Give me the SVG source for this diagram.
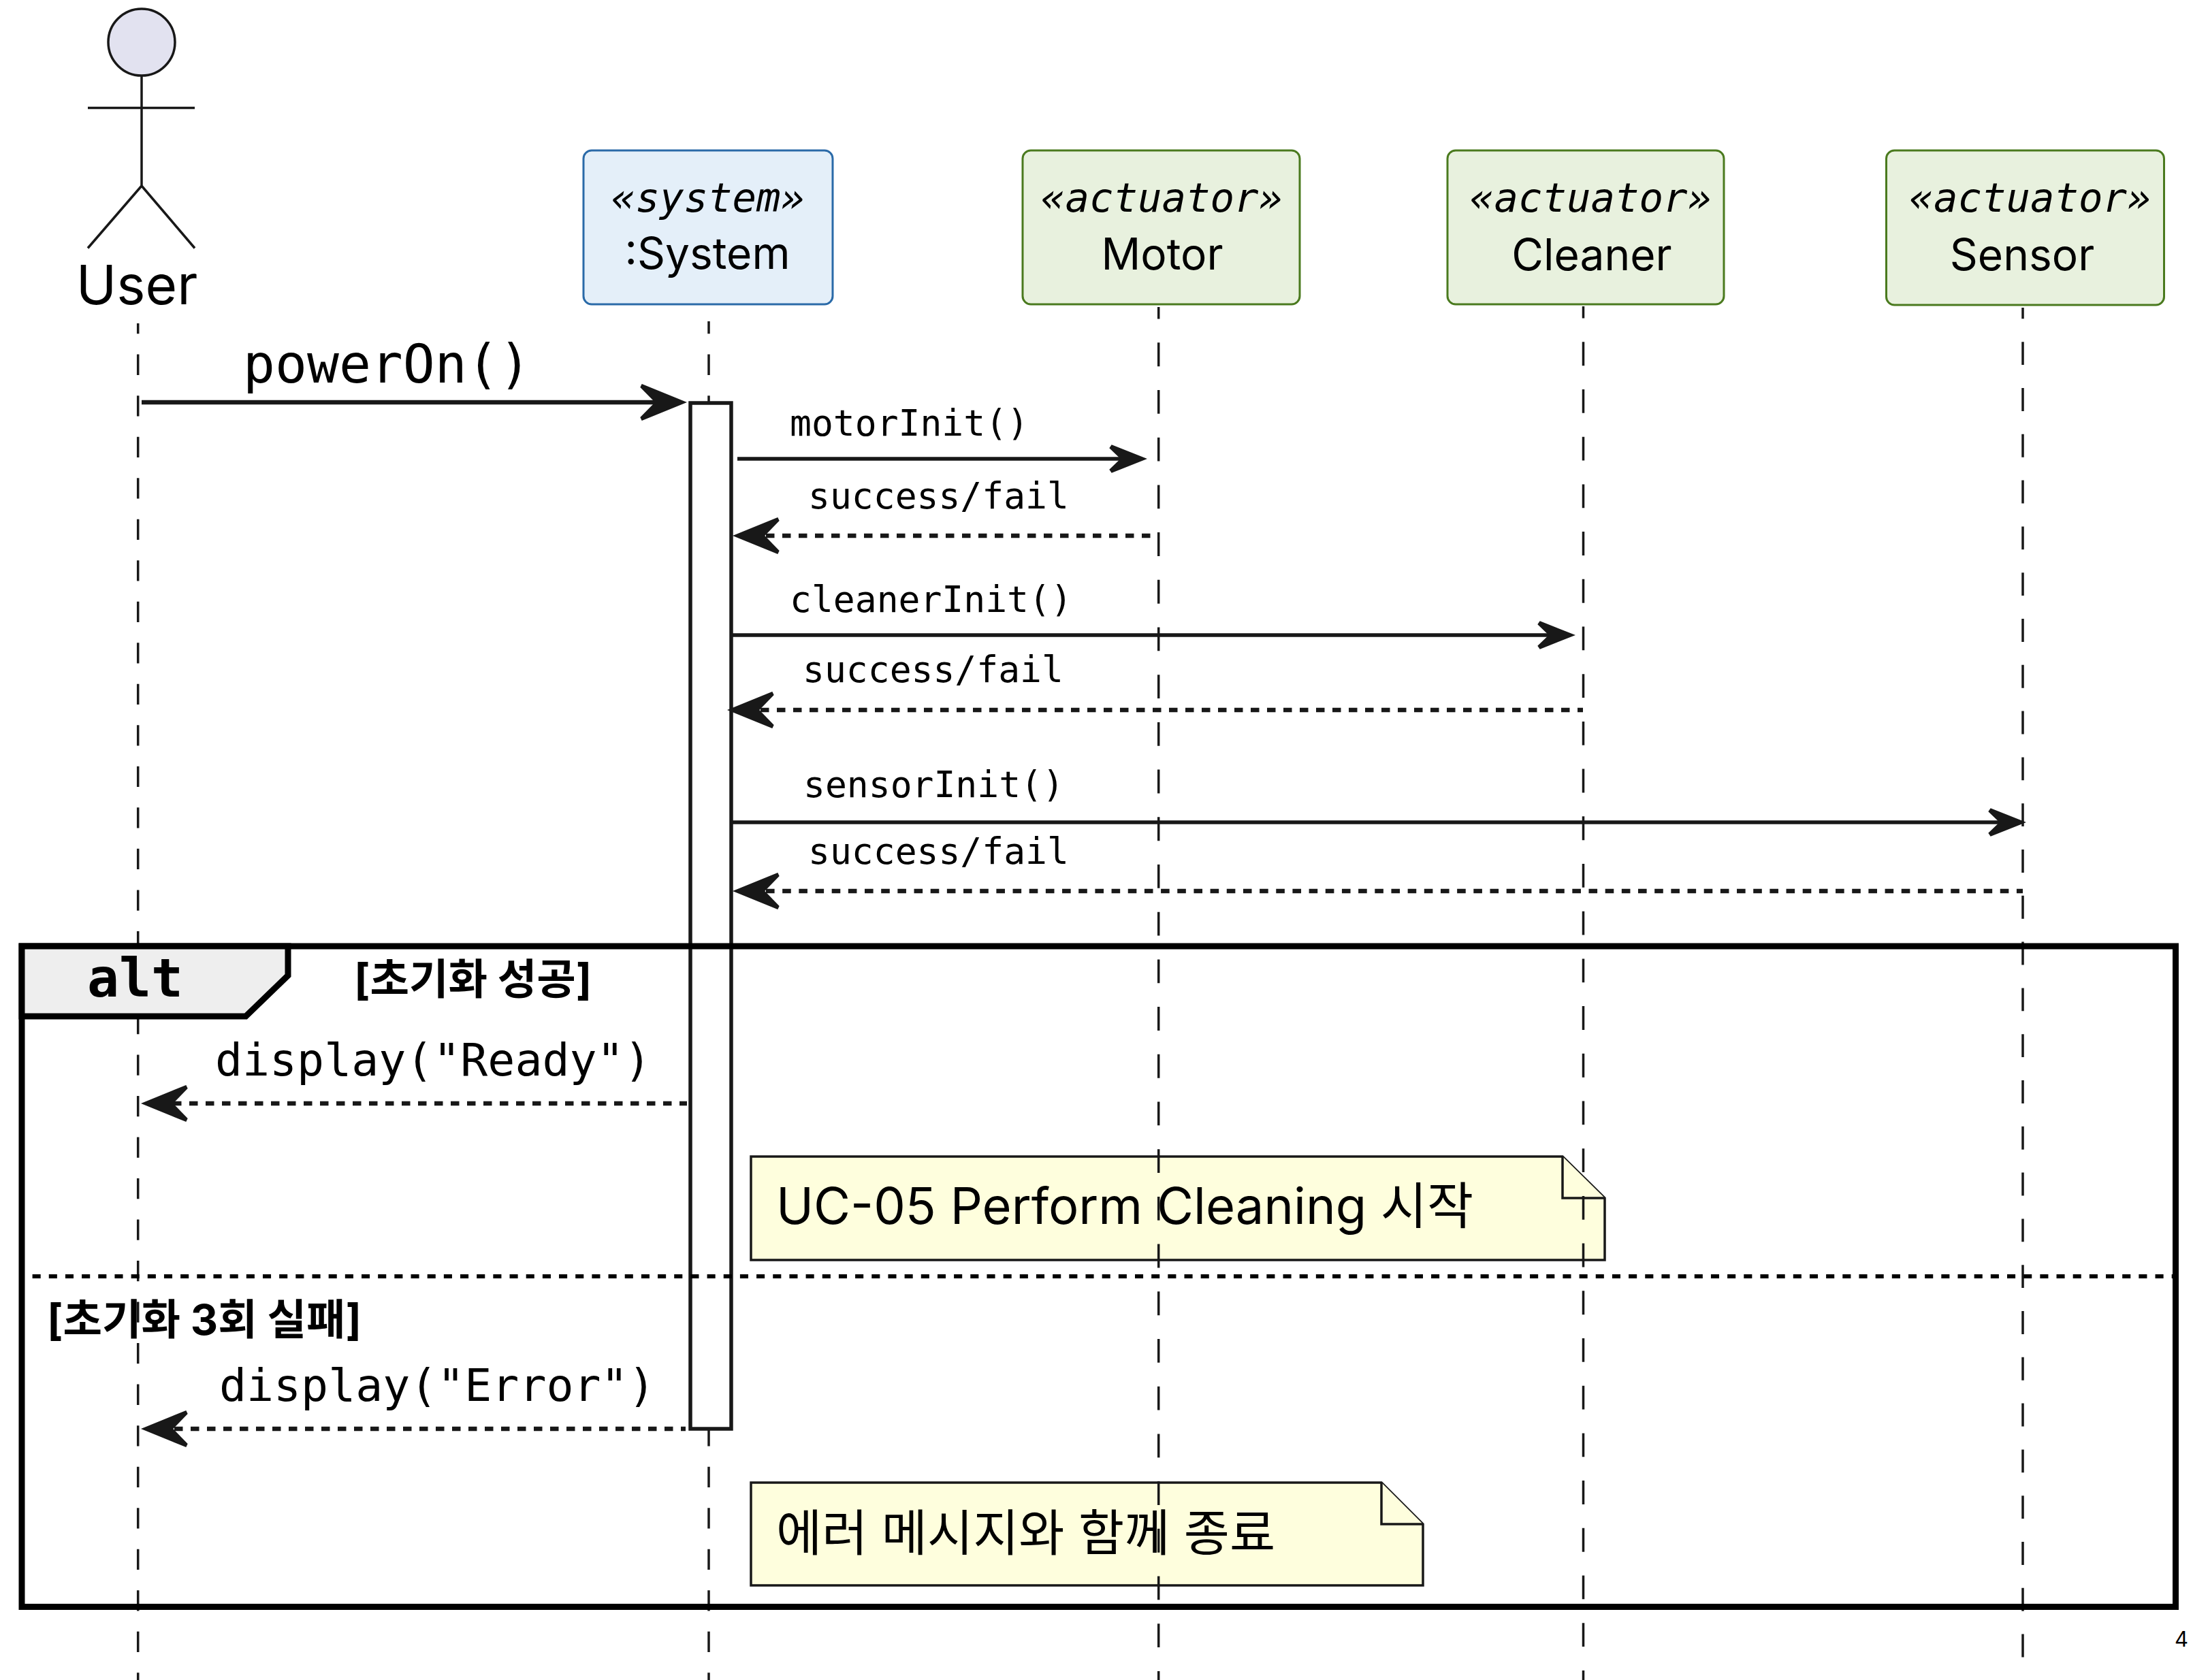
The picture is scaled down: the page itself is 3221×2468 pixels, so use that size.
<svg xmlns="http://www.w3.org/2000/svg" width="3221" height="2468" viewBox="0 0 3221 2468">
<style>
.life{stroke:#181818;stroke-width:3.5;fill:none}
.sans{font-family:Inter,"Noto Sans CJK KR",sans-serif;fill:#000}
.mono{font-family:"DejaVu Sans Mono",monospace;fill:#000}
.st{font-size:59px;font-style:italic;text-anchor:middle}
.pn{font-size:64px;text-anchor:middle}
.ms{font-size:53px}
.ml{font-size:66.500px}
.guard{font-size:62.500px;font-weight:700}
.note{font-size:74px}
.notebox{fill:#fefedd;stroke:#181818;stroke-width:3.5}
.act{fill:#e2e2f0;stroke:#181818;stroke-width:3.5}
.sys{fill:#e4eff9;stroke:#2a6aa8;stroke-width:3}
.actu{fill:#e8f1de;stroke:#4a7a1e;stroke-width:3}
.solid{stroke:#181818;stroke-width:5.5;fill:none}
.dash{stroke:#181818;stroke-width:6.5;fill:none;stroke-dasharray:12.500 11.500}
.head{fill:#181818}
</style>
<rect width="3221" height="2468" fill="#fff"/>

<g id="note-start">
<path class="notebox" d="M1103 1699H2295L2357 1760V1851H1103Z"/>
<path class="notebox" d="M2295 1699V1760H2357"/>
<text class="sans note" x="1140" y="1798">UC-05 Perform Cleaning 시작</text>
</g>
<g id="note-error">
<path class="notebox" d="M1103 2178H2029L2090 2239V2329H1103Z"/>
<path class="notebox" d="M2029 2178V2239H2090"/>
<text class="sans note" x="1140" y="2278" style="font-size:73px">에러 메시지와 함께 종료</text>
</g>

<g id="user">
<circle class="act" cx="208" cy="62" r="49"/>
<path class="life" d="M208 111V273M129 158.500H286M208 273L129 364.500M208 273L286 364.500"/>
<text class="sans" font-size="80" x="201" y="447" text-anchor="middle">User</text>
<line class="life" x1="202.700" y1="475" x2="202.700" y2="2468" stroke-dasharray="30.260 30.260" stroke-dashoffset="14.900"/>
</g>
<g id="system">
<rect class="sys" x="857" y="221" width="366" height="226" rx="12"/>
<text class="mono st" x="1040" y="311">«system»</text>
<text class="sans pn" x="1039" y="395">:System</text>
<line class="life" x1="1041" y1="472" x2="1041" y2="2468" stroke-dasharray="30.260 30.260" stroke-dashoffset="11.900"/>
</g>
<g id="motor">
<rect class="actu" x="1502" y="221" width="407" height="226" rx="12"/>
<text class="mono st" x="1706.500" y="311">«actuator»</text>
<text class="sans pn" x="1707" y="396">Motor</text>
<line class="life" x1="1701.700" y1="451" x2="1701.700" y2="2468" stroke-dasharray="34.850 34.850" stroke-dashoffset="17.400"/>
</g>
<g id="cleaner">
<rect class="actu" x="2126" y="221" width="406" height="226" rx="12"/>
<text class="mono st" x="2336.500" y="311">«actuator»</text>
<text class="sans pn" x="2338" y="397">Cleaner</text>
<line class="life" x1="2325.500" y1="450" x2="2325.500" y2="2468" stroke-dasharray="34.850 34.850" stroke-dashoffset="17.400"/>
</g>
<g id="sensor">
<rect class="actu" x="2770.500" y="221" width="408" height="227" rx="12"/>
<text class="mono st" x="2982" y="311">«actuator»</text>
<text class="sans pn" x="2970" y="397">Sensor</text>
<line class="life" x1="2971" y1="452" x2="2971" y2="2468" stroke-dasharray="33.900 33.900" stroke-dashoffset="17.600"/>
</g>

<g id="activation">
<rect x="1014" y="592" width="60" height="1507" fill="#fff" stroke="#181818" stroke-width="5.500"/>
</g>

<g id="connectors">
<line class="solid" style="stroke-width:6.500" x1="208" y1="591" x2="985" y2="591"/>
<polygon class="head" points="1009,591 942.700,564 940.300,569 962,591 940.300,613 942.700,618"/>
<text class="mono" font-size="78" x="357" y="562">powerOn()</text>

<line class="solid" x1="1083" y1="674" x2="1660" y2="674"/>
<polygon class="head" points="1685,674 1632.700,653.300 1629.300,658.300 1645.700,674 1629.300,689.700 1632.700,694.700"/>
<text class="mono ms" x="1160" y="640">motorInit()</text>

<line class="dash" x1="1125" y1="787" x2="1702" y2="787"/>
<polygon class="head" points="1076,787 1142.300,760 1144.700,765 1123.300,787 1144.700,809 1142.300,814"/>
<text class="mono ms" x="1187" y="747">success/fail</text>

<line class="solid" x1="1074" y1="933" x2="2290" y2="933"/>
<polygon class="head" points="2314,933 2261.700,912.300 2258.300,917.300 2274.700,933 2258.300,948.700 2261.700,953.700"/>
<text class="mono ms" x="1160" y="899">cleanerInit()</text>

<line class="dash" x1="1117" y1="1043" x2="2325" y2="1043"/>
<polygon class="head" points="1068,1043 1134.300,1016 1136.700,1021 1115.300,1043 1136.700,1065 1134.300,1070"/>
<text class="mono ms" x="1179" y="1002">success/fail</text>

<line class="solid" x1="1074" y1="1208" x2="2950" y2="1208"/>
<polygon class="head" points="2976,1208 2923.700,1187.300 2920.300,1192.300 2936.700,1208 2920.300,1223.700 2923.700,1228.700"/>
<text class="mono ms" x="1180" y="1171">sensorInit()</text>

<line class="dash" style="stroke-dasharray:12.600 11.570" x1="1125" y1="1309" x2="2971" y2="1309"/>
<polygon class="head" points="1076,1309 1142.300,1282 1144.700,1287 1123.300,1309 1144.700,1331 1142.300,1336"/>
<text class="mono ms" x="1187" y="1269">success/fail</text>

<line class="dash" x1="254" y1="1621" x2="1009" y2="1621"/>
<polygon class="head" points="207,1621 273.300,1594 275.700,1599 254.300,1621 275.700,1643 273.300,1648"/>
<text class="mono ml" x="316" y="1580">display("Ready")</text>

<line class="dash" x1="256" y1="2099" x2="1007" y2="2099"/>
<polygon class="head" points="207,2099 273.300,2072 275.700,2077 254.300,2099 275.700,2121 273.300,2126"/>
<text class="mono ml" x="322" y="2058">display("Error")</text>
</g>

<g id="frame-alt">
<rect x="32" y="1390" width="3163.500" height="970.500" fill="none" stroke="#000" stroke-width="9"/>
<path d="M32 1390H423V1433L361 1493H32Z" fill="#eee" stroke="#000" stroke-width="9"/>
<text class="mono" font-size="78" font-weight="700" x="128" y="1464">alt</text>
<text class="sans guard" x="520" y="1461">[초기화 성공]</text>
<line x1="36" y1="1875" x2="3191" y2="1875" stroke="#000" stroke-width="6" stroke-dasharray="12.085 12.085" stroke-dashoffset="12.570"/>
<text class="sans guard" x="69" y="1961">[초기화 3회 실패]</text>
</g>
<text class="sans" font-size="31" x="3194" y="2419">4</text>
</svg>
